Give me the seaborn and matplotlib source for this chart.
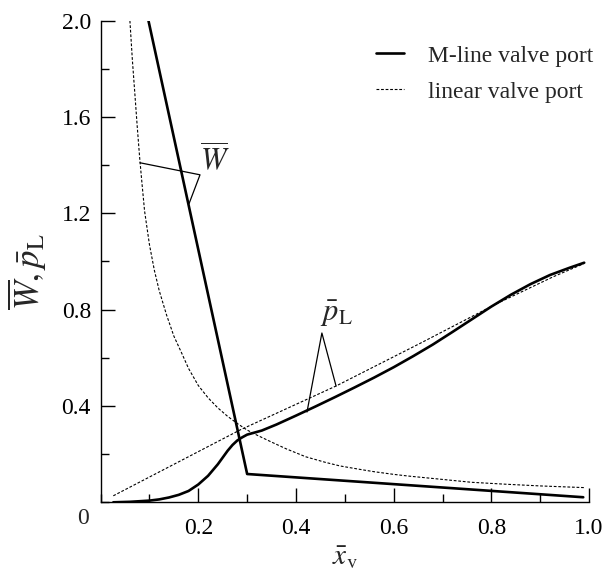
import numpy as np
import pandas as pd
import matplotlib
matplotlib.use("Agg")
import matplotlib.pyplot as plt
import seaborn as sns
from matplotlib.ticker import MultipleLocator, FixedLocator, FixedFormatter

# Dimensionless valve opening vs. flow-force coefficient W and load pressure p_L
# M-line valve port
w_mline_x = [0.098, 0.300, 0.988]
w_mline_y = [2.000, 0.1175, 0.021]

p_mline_x = [0.026, 0.060, 0.100, 0.120, 0.140, 0.160, 0.180, 0.200, 0.220, 0.240,
             0.250, 0.260, 0.270, 0.280, 0.290, 0.300, 0.330, 0.360, 0.400, 0.440,
             0.480, 0.520, 0.560, 0.600, 0.640, 0.680, 0.720, 0.760, 0.800, 0.840,
             0.880, 0.920, 0.960, 0.990]
p_mline_y = [0.000, 0.002, 0.007, 0.012, 0.020, 0.031, 0.047, 0.074, 0.110, 0.158,
             0.186, 0.214, 0.238, 0.257, 0.270, 0.281, 0.298, 0.323, 0.360, 0.398,
             0.437, 0.477, 0.518, 0.561, 0.607, 0.655, 0.707, 0.760, 0.813, 0.862,
             0.906, 0.944, 0.974, 0.995]

# linear valve port
w_linear_x = [0.060, 0.065, 0.070, 0.075, 0.080, 0.085, 0.090, 0.100, 0.110, 0.120,
              0.135, 0.150, 0.165, 0.180, 0.200, 0.220, 0.240, 0.260, 0.280, 0.300,
              0.320, 0.350, 0.380, 0.420, 0.460, 0.490, 0.530, 0.560, 0.600, 0.630,
              0.700, 0.760, 0.830, 0.900, 0.990]
w_linear_y = [2.000, 1.838, 1.700, 1.560, 1.430, 1.318, 1.210, 1.070, 0.964, 0.879,
              0.778, 0.690, 0.624, 0.556, 0.485, 0.434, 0.392, 0.357, 0.327, 0.300,
              0.279, 0.250, 0.222, 0.189, 0.166, 0.151, 0.137, 0.127, 0.116, 0.109,
              0.095, 0.083, 0.075, 0.068, 0.061]

p_linear_x = [0.026, 0.285, 0.482, 0.654, 0.811, 0.927, 0.988]
p_linear_y = [0.027, 0.300, 0.483, 0.660, 0.825, 0.937, 0.990]

x_ticks = [0.2, 0.4, 0.6, 0.8, 1.0]
x_tick_labels = ["0.2", "0.4", "0.6", "0.8", "1.0"]
y_ticks = [0.4, 0.8, 1.2, 1.6, 2.0]
y_tick_labels = ["0.4", "0.8", "1.2", "1.6", "2.0"]

legend_labels = ["M-line valve port", "linear valve port"]

sns.set_theme(style="ticks")
plt.rcParams["font.family"] = ["Liberation Serif", "DejaVu Serif"]
plt.rcParams["mathtext.fontset"] = "stix"

fig = plt.figure(figsize=(6.04, 5.72), dpi=100)
ax = fig.add_axes([100.6 / 604, 1 - 502.3 / 572, 488.5 / 604, 481.6 / 572])

solid_kw = dict(color="black", linewidth=1.9, estimator=None, sort=False)
dash_kw = dict(color="black", linewidth=0.8, estimator=None, sort=False,
               linestyle=(0, (2.5, 1.6)))

sns.lineplot(x=w_mline_x, y=w_mline_y, ax=ax, label=legend_labels[0], **solid_kw)
sns.lineplot(x=p_mline_x, y=p_mline_y, ax=ax, **solid_kw)
sns.lineplot(x=w_linear_x, y=w_linear_y, ax=ax, label=legend_labels[1], **dash_kw)
sns.lineplot(x=p_linear_x, y=p_linear_y, ax=ax, **dash_kw)

ax.set_xlim(0, 1.0)
ax.set_ylim(0, 2.0)
sns.despine(ax=ax)
for s in ("left", "bottom"):
    ax.spines[s].set_linewidth(1.0)
    ax.spines[s].set_color("black")

ax.xaxis.set_major_locator(FixedLocator(x_ticks))
ax.xaxis.set_major_formatter(FixedFormatter(x_tick_labels))
ax.xaxis.set_minor_locator(MultipleLocator(0.1))
ax.yaxis.set_major_locator(FixedLocator(y_ticks))
ax.yaxis.set_major_formatter(FixedFormatter(y_tick_labels))
ax.yaxis.set_minor_locator(MultipleLocator(0.2))
ax.tick_params(which="both", direction="in", colors="black", labelsize=17, width=1.0)
ax.tick_params(which="major", length=10)
ax.tick_params(which="minor", length=6)
ax.tick_params(axis="x", which="major", pad=11)
ax.tick_params(axis="y", which="major", pad=7)

# shared origin label
fig.text(83.3 / 604, 1 - 519 / 572, "0", fontsize=17, ha="center", va="center")

ax.set_xlabel(r"$\bar{x}_{\mathrm{v}}$", fontsize=21)
ax.xaxis.set_label_coords(0.5, -0.088)
ax.set_ylabel(r"$\overline{W},\bar{p}_{\mathrm{L}}$", fontsize=25)
ax.yaxis.set_label_coords(-0.105, 0.48)

# leader lines for curve labels
ax.plot([0.0807, 0.2035, 0.181], [1.41, 1.36, 1.24], color="black", lw=0.9)
ax.text(0.203, 1.35, r"$\overline{W}$", fontsize=22, ha="left", va="bottom")
ax.plot([0.4225, 0.453, 0.482], [0.375, 0.703, 0.483], color="black", lw=0.9)
ax.text(0.482, 0.785, r"$\bar{p}_{\mathrm{L}}$", fontsize=22, ha="center", va="center")

ax.legend(loc="upper left", bbox_to_anchor=(376 / 604, 1 - 45 / 572),
          bbox_transform=fig.transFigure, frameon=False, fontsize=17,
          handlelength=1.2, handletextpad=1.0, labelspacing=0.62,
          borderpad=0, borderaxespad=0)

fig.savefig("out.png", dpi=100)
